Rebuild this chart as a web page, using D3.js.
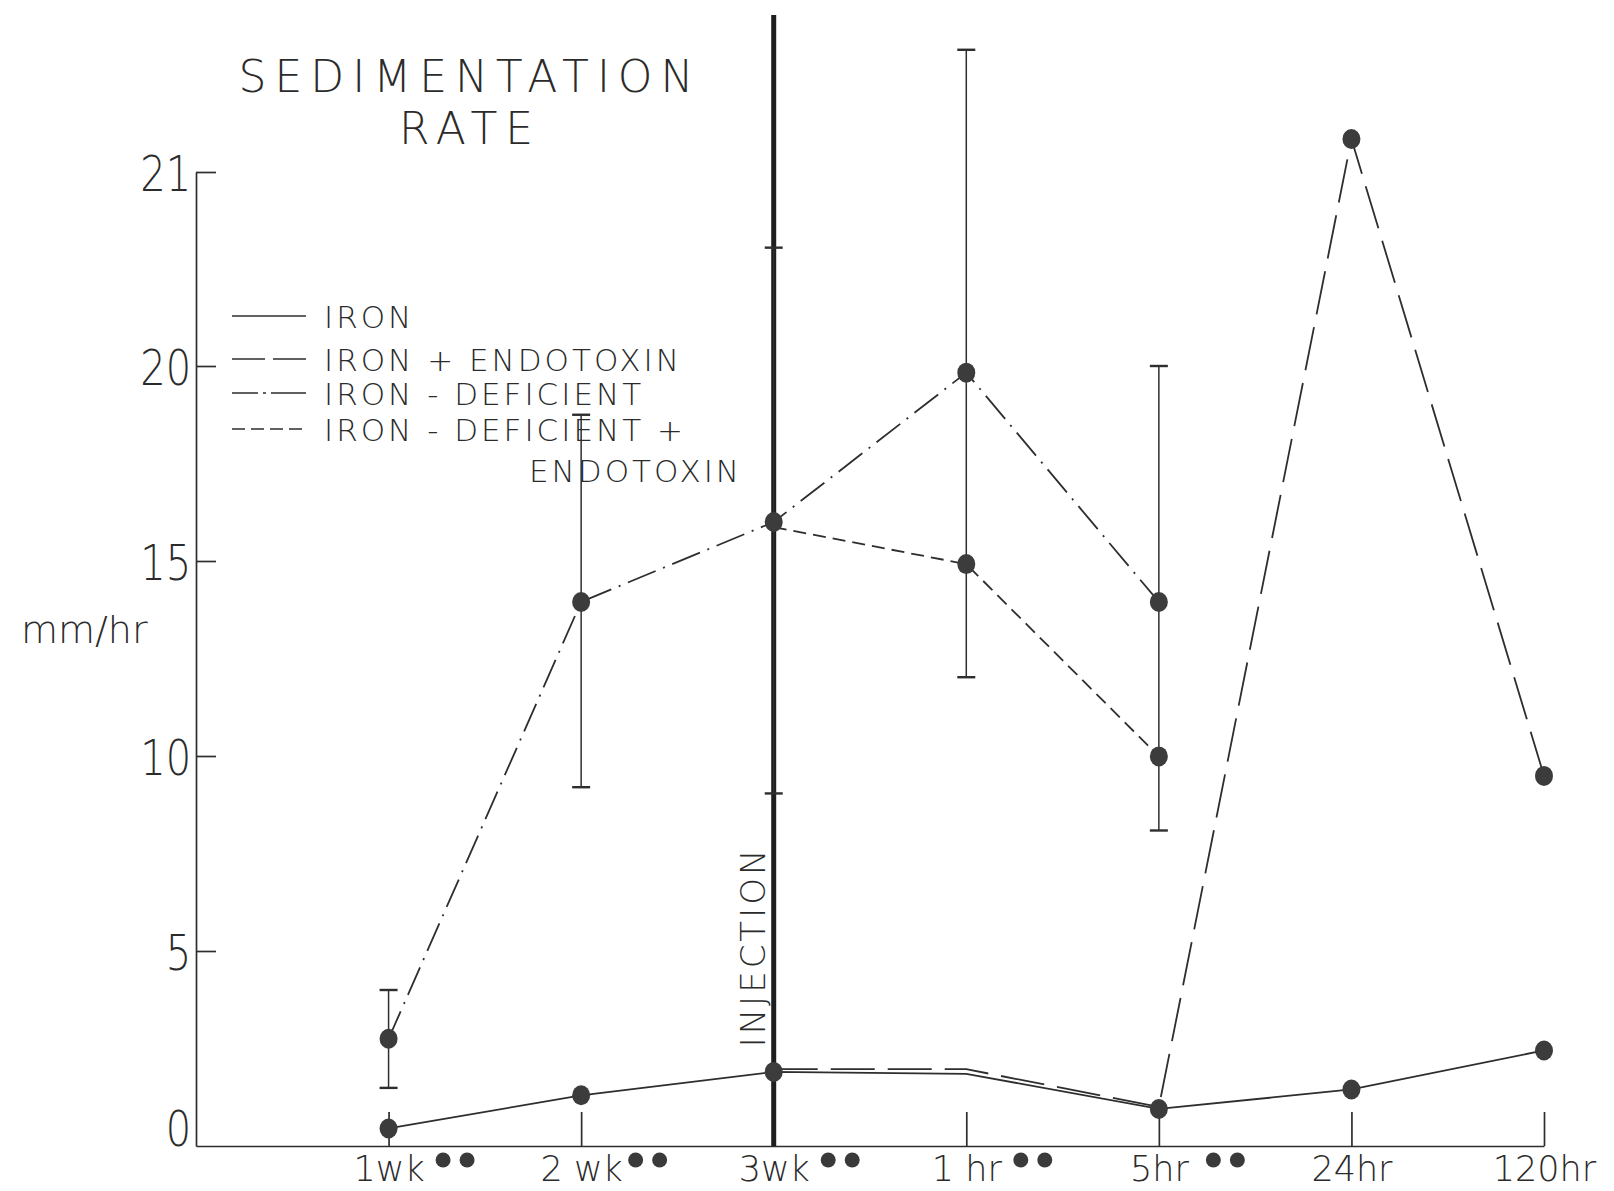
<!DOCTYPE html>
<html><head><meta charset="utf-8">
<script src="https://cdn.jsdelivr.net/npm/d3@7"></script>
<style>
html,body{margin:0;padding:0;background:#fff;}
svg text{font-family:"DejaVu Sans","Open Sans",sans-serif;font-weight:200;fill:#2b2b2b;}
</style></head><body>
<svg id="chart" width="1614" height="1191"></svg>
<script>
// ---- data ----
const categories = ["1wk", "2 wk", "3wk", "1 hr", "5hr", "24hr", "120hr"];
const significance = [2, 2, 2, 2, 2, 0, 0];
const yTickValues = [0, 5, 10, 15, 20, 21];
const yTickLabels = ["0", "5", "10", "15", "20", "21"];

const iron            = [0.45, 1.3, 1.9, 1.85, 0.95, 1.45, 2.45];
const ironMarks       = [1, 1, 1, 0, 1, 1, 1];
const ironEndo        = [null, null, 1.97, 1.97, 1.0, 21.17, 9.49];
const ironEndoMarks   = [0, 0, 0, 0, 0, 1, 1];
const ironDef         = [2.75, 13.95, 16.0, 19.83, 13.95, null, null];
const ironDefMarks    = [1, 1, 1, 1, 1, 0, 0];
const ironDefEndo     = [null, null, 15.87, 14.92, 9.99, null, null];
const ironDefEndoMarks= [0, 0, 0, 1, 1, 0, 0];

const errLow  = [1.49, 9.2, 9.04, 12.02, 8.09, null, null];
const errHigh = [4.0, 18.75, 20.61, 21.63, 20.0, null, null];

const seriesNames = ["IRON", "IRON + ENDOTOXIN", "IRON - DEFICIENT", "IRON - DEFICIENT +"];
const injectionAt = "3wk";

// ---- chart ----
const svg = d3.select("#chart");
const ink = "#2e2e2e";

const x = d3.scalePoint().domain(categories).range([196, 1544]).padding(0.5).align(1);
const y = d3.scaleLinear().domain([0, 20, 21]).range([1146, 366, 172]);

const series = [
  {values: iron, marks: ironMarks, dash: null},
  {values: ironEndo, marks: ironEndoMarks, dash: "44,13"},
  {values: ironDef, marks: ironDefMarks, dash: "30,8,2,8"},
  {values: ironDefEndo, marks: ironDefEndoMarks, dash: "13,7"}
];

// y axis
const yAxis = svg.append("g").attr("transform", "translate(196,0)")
  .call(d3.axisLeft(y).tickValues(yTickValues).tickFormat((d, i) => yTickLabels[i])
    .tickSizeInner(-20).tickSizeOuter(0).tickPadding(6));
yAxis.selectAll("path,line").attr("stroke", ink).attr("stroke-width", 1.7);
yAxis.selectAll(".tick text").style("font-size", "50px").attr("fill", ink)
  .attr("dy", d => d === 0 ? "-0.02em" : "0.36em")
  .attr("transform", "scale(0.8,1)");
yAxis.selectAll(".tick").filter(d => d === 0).select("line").remove();

// x axis
const xAxis = svg.append("g").attr("transform", "translate(0,1146)")
  .call(d3.axisBottom(x).tickSizeInner(-34).tickSizeOuter(0).tickPadding(10));
xAxis.selectAll("path,line").attr("stroke", ink).attr("stroke-width", 1.7);
xAxis.selectAll("text").style("font-size", "35px").attr("fill", ink);
xAxis.selectAll(".tick").each(function(d, i) {
  const g = d3.select(this);
  const n = significance[i];
  for (let k = 0; k < n; k++) {
    g.append("circle").attr("cx", 54 + k * 24).attr("cy", 14)
      .attr("r", 7.5).attr("fill", "#3a3a3a");
  }
});

// injection line
svg.append("line")
  .attr("x1", x(injectionAt)).attr("x2", x(injectionAt))
  .attr("y1", 15).attr("y2", 1146)
  .attr("stroke", "#1e1e1e").attr("stroke-width", 5);
svg.append("text")
  .attr("transform", `translate(${x(injectionAt) - 9},947) rotate(-90)`)
  .attr("text-anchor", "middle")
  .style("font-size", "34px").style("letter-spacing", "3px")
  .text("INJECTION");

// error bars
const ebg = svg.append("g");
categories.forEach((c, i) => {
  if (errLow[i] == null) return;
  const cx = x(c);
  ebg.append("line").attr("x1", cx).attr("x2", cx).attr("y1", y(errLow[i])).attr("y2", y(errHigh[i]))
    .attr("stroke", ink).attr("stroke-width", 1.5);
  [errLow[i], errHigh[i]].forEach(v => {
    ebg.append("line").attr("x1", cx - 9).attr("x2", cx + 9).attr("y1", y(v)).attr("y2", y(v))
      .attr("stroke", ink).attr("stroke-width", 2.4);
  });
});

// lines
const line = d3.line().defined(d => d.v != null).x(d => x(d.c)).y(d => y(d.v));
series.forEach(s => {
  const pts = categories.map((c, i) => ({c, v: s.values[i]}));
  svg.append("path").datum(pts).attr("d", line)
    .attr("fill", "none").attr("stroke", ink).attr("stroke-width", 1.8)
    .attr("stroke-dasharray", s.dash);
});

// markers
series.forEach(s => {
  categories.forEach((c, i) => {
    if (s.marks[i] && s.values[i] != null) {
      svg.append("ellipse").attr("cx", x(c)).attr("cy", y(s.values[i]))
        .attr("rx", 9).attr("ry", 10).attr("fill", "#3c3c3c");
    }
  });
});

// title
svg.append("text").attr("x", 470).attr("y", 92).attr("text-anchor", "middle")
  .style("font-size", "44px").style("letter-spacing", "8px").text("SEDIMENTATION");
svg.append("text").attr("x", 470).attr("y", 144).attr("text-anchor", "middle")
  .style("font-size", "44px").style("letter-spacing", "8px").text("RATE");

// y label
svg.append("text").attr("x", 21).attr("y", 643).style("font-size", "38px").text("mm/hr");

// legend
const legendY = [316, 359, 393, 429];
const legendDash = [null, "33,8", "26,5,3,5,40", "13,6"];
const lg = svg.append("g");
seriesNames.forEach((nm, i) => {
  lg.append("line").attr("x1", 232).attr("x2", 306).attr("y1", legendY[i]).attr("y2", legendY[i])
    .attr("stroke", ink).attr("stroke-width", 1.7).attr("stroke-dasharray", legendDash[i]);
  lg.append("text").attr("x", 324).attr("y", legendY[i] + 12)
    .style("font-size", "31px").style("letter-spacing", "3px").text(nm);
});
lg.append("text").attr("x", 742).attr("y", 482).attr("text-anchor", "end")
  .style("font-size", "31px").style("letter-spacing", "3px").text("ENDOTOXIN");
</script>
</body></html>
